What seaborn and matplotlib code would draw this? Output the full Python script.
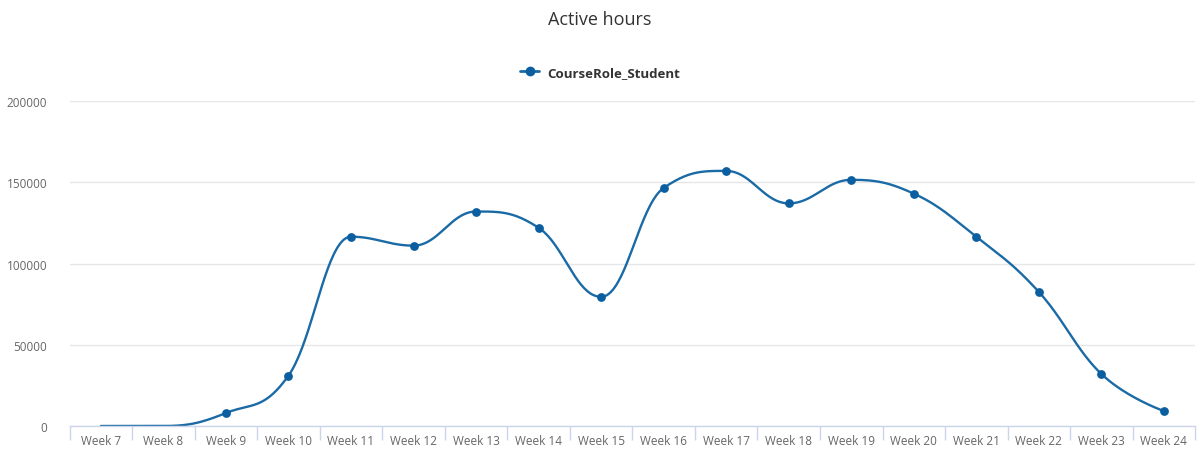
import numpy as np
import pandas as pd
import seaborn as sns
import matplotlib.pyplot as plt
from matplotlib.ticker import FixedLocator

weeks = ["Week 7", "Week 8", "Week 9", "Week 10", "Week 11", "Week 12", "Week 13",
         "Week 14", "Week 15", "Week 16", "Week 17", "Week 18", "Week 19", "Week 20",
         "Week 21", "Week 22", "Week 23", "Week 24"]
hours = [0, 0, 8000, 31000, 116500, 111000, 132000, 122000, 79500, 146500,
         157000, 137000, 151500, 143000, 116500, 82500, 32000, 9200]
y_ticks = [0, 50000, 100000, 150000, 200000]

LINE = "#1a6aa6"
DOT = "#0b5fa0"

sns.set_theme(style="white")
plt.rcParams["font.family"] = ["Open Sans", "DejaVu Sans"]


def spline_path(xs, ys, smoothing=1.5, steps=40):
    """Highcharts-style spline: cubic bezier with smoothed control points"""
    n = len(xs)
    left, right = [], []
    for i in range(n):
        x, y = xs[i], ys[i]
        if i == 0 or i == n - 1:
            left.append((x, y))
            right.append((x, y))
            continue
        lx, ly = xs[i - 1], ys[i - 1]
        nx, ny = xs[i + 1], ys[i + 1]
        d = smoothing + 1
        lcx = (smoothing * x + lx) / d
        lcy = (smoothing * y + ly) / d
        rcx = (smoothing * x + nx) / d
        rcy = (smoothing * y + ny) / d
        if rcx != lcx:
            corr = (rcy - lcy) * (rcx - x) / (rcx - lcx) + y - rcy
            lcy += corr
            rcy += corr
        if lcy > ly and lcy > y:
            lcy = max(ly, y)
            rcy = 2 * y - lcy
        elif lcy < ly and lcy < y:
            lcy = min(ly, y)
            rcy = 2 * y - lcy
        if rcy > ny and rcy > y:
            rcy = max(ny, y)
            lcy = 2 * y - rcy
        elif rcy < ny and rcy < y:
            rcy = min(ny, y)
            lcy = 2 * y - rcy
        left.append((lcx, lcy))
        right.append((rcx, rcy))
    px, py = [xs[0]], [ys[0]]
    t = np.linspace(0, 1, steps)[1:]
    for i in range(1, n):
        p0 = np.array([xs[i - 1], ys[i - 1]])
        p1 = np.array(right[i - 1])
        p2 = np.array(left[i])
        p3 = np.array([xs[i], ys[i]])
        for tt in t:
            b = ((1 - tt) ** 3) * p0 + 3 * ((1 - tt) ** 2) * tt * p1 \
                + 3 * (1 - tt) * tt ** 2 * p2 + tt ** 3 * p3
            px.append(b[0])
            py.append(b[1])
    return px, py


idx = list(range(len(weeks)))
sx, sy = spline_path(idx, hours)
curve = pd.DataFrame({"x": sx, "y": sy})
pts = pd.DataFrame({"x": idx, "y": hours})
pts = pts[pts["y"] > 0]

fig = plt.figure(figsize=(12, 4.52), dpi=100)
ax = fig.add_axes([0.058, 0.0553, 0.938, 0.7190])

sns.lineplot(data=curve, x="x", y="y", color=LINE, linewidth=1.7, sort=False, ax=ax)
sns.scatterplot(data=pts, x="x", y="y", color=DOT, s=40, edgecolor=DOT, linewidth=0,
                zorder=3, ax=ax)

ax.set_xlim(-0.5, len(weeks) - 0.5)
ax.set_ylim(0, 200000)
ax.set_yticks(y_ticks)
ax.set_yticklabels([str(v) for v in y_ticks], fontsize=8.5, color="#666666")
ax.set_xticks(idx)
ax.set_xticklabels(weeks, fontsize=8.5, color="#666666")
ax.xaxis.set_minor_locator(FixedLocator(np.arange(-0.5, len(weeks), 1)))
ax.tick_params(axis="x", which="major", length=0, pad=6)
ax.tick_params(axis="x", which="minor", length=10, width=1, color="#ccd6eb",
               direction="out", bottom=True)
ax.tick_params(axis="y", length=0, pad=16)
ax.grid(axis="y", color="#e6e6e6", linewidth=1)
ax.set_axisbelow(True)
for side in ["top", "right", "left"]:
    ax.spines[side].set_visible(False)
ax.spines["bottom"].set_color("#ccd6eb")
ax.spines["bottom"].set_linewidth(1)
ax.set_xlabel("")
ax.set_ylabel("")

fig.text(0.5, 0.955, "Active hours", ha="center", va="center", fontsize=13,
         color="#333333")

# legend
leg_handle = plt.Line2D([], [], color=LINE, linewidth=2, marker="o", markersize=6,
                        markerfacecolor=DOT, markeredgecolor=DOT)
fig.legend([leg_handle], ["CourseRole_Student"], loc="center",
           bbox_to_anchor=(0.5, 0.838), frameon=False, handlelength=1.4,
           handletextpad=0.6, prop={"weight": "bold", "size": 9.5},
           labelcolor="#333333")

fig.savefig("out.png", dpi=100)
